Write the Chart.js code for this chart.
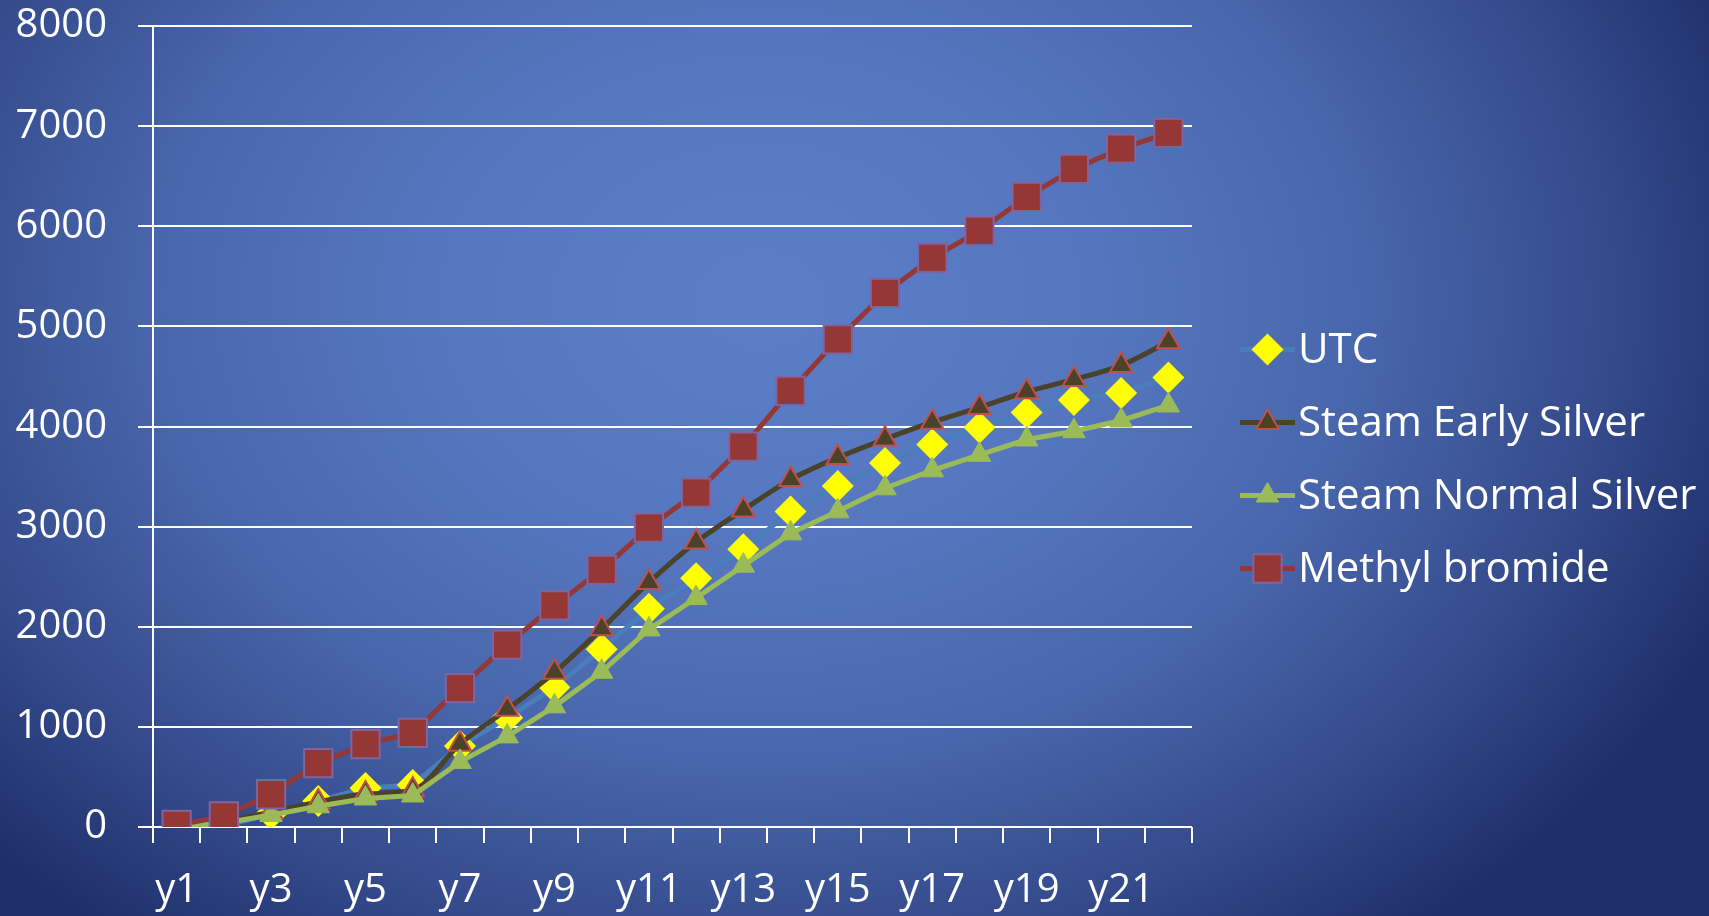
<!DOCTYPE html>
<html>
<head>
<meta charset="utf-8">
<title>Cumulative totals</title>
<script src="https://cdn.jsdelivr.net/npm/chart.js@4/dist/chart.umd.min.js"></script>
<style>
  html, body {
    margin: 0;
    padding: 0;
    width: 1709px;
    height: 916px;
    overflow: hidden;
  }
  body {
    background: radial-gradient(ellipse 1050px 800px at 760px 300px,
      #5c7ec8 0%, #5677c0 30%, #4866ab 58%, #33498a 82%, #1f2f6a 100%);
  }
  #chart {
    display: block;
  }
</style>
</head>
<body>
<canvas id="chart" width="1709" height="916"></canvas>
<script>
// Categories along the x axis
const years = ['y1', 'y2', 'y3', 'y4', 'y5', 'y6', 'y7', 'y8', 'y9', 'y10', 'y11',
               'y12', 'y13', 'y14', 'y15', 'y16', 'y17', 'y18', 'y19', 'y20', 'y21', 'y22'];

// Series values
const utc = [0, 10, 130, 260, 390, 420, 810, 1090, 1395, 1775, 2180,
             2485, 2775, 3150, 3405, 3635, 3820, 3990, 4140, 4265, 4335, 4490];
const steamEarly = [0, 60, 150, 250, 330, 370, 827, 1175, 1545, 1980, 2443,
                    2847, 3167, 3470, 3690, 3874, 4043, 4190, 4347, 4470, 4610, 4847];
const steamNormal = [0, 40, 120, 207, 285, 315, 650, 905, 1205, 1550, 1973,
                     2287, 2610, 2933, 3153, 3383, 3563, 3717, 3870, 3953, 4060, 4210];
const methylBromide = [20, 105, 327, 638, 828, 940, 1388, 1822, 2213, 2568, 2990,
                       3340, 3800, 4356, 4870, 5335, 5684, 5954, 6294, 6573, 6775, 6933];

// Y axis ticks
const yTicks = [0, 1000, 2000, 3000, 4000, 5000, 6000, 7000, 8000];

const FONT = '"Open Sans", "Noto Sans", sans-serif';
const FONT_SIZE = 40;
const LEGEND_SIZE = 42;

// Excel-style legend: line sample with the marker in the middle, then the label
const lineLegend = {
  id: 'lineLegend',
  afterDraw(chart) {
    const ctx = chart.ctx;
    const area = chart.chartArea;
    const sets = chart.data.datasets;
    const rowGap = 73;
    const midY = 459;
    const lineX0 = area.right + 48;
    const lineX1 = area.right + 103;
    const textX = area.right + 106;

    ctx.save();
    sets.forEach((ds, i) => {
      const y = midY + (i - (sets.length - 1) / 2) * rowGap;

      ctx.beginPath();
      ctx.strokeStyle = ds.borderColor;
      ctx.lineWidth = ds.borderWidth;
      ctx.moveTo(lineX0, y);
      ctx.lineTo(lineX1, y);
      ctx.stroke();

      ctx.fillStyle = ds.pointBackgroundColor;
      ctx.strokeStyle = ds.pointBorderColor;
      ctx.lineWidth = ds.pointBorderWidth;
      Chart.helpers.drawPoint(ctx, {
        pointStyle: ds.pointStyle,
        radius: ds.pointRadius,
        rotation: 0,
        borderWidth: ds.pointBorderWidth
      }, (lineX0 + lineX1) / 2, y);

      ctx.fillStyle = '#ffffff';
      ctx.font = LEGEND_SIZE + 'px ' + FONT;
      ctx.textAlign = 'left';
      ctx.textBaseline = 'middle';
      ctx.fillText(ds.label, textX, y + 2);
    });
    ctx.restore();
  }
};

new Chart(document.getElementById('chart'), {
  type: 'line',
  data: {
    labels: years,
    datasets: [
      {
        label: 'UTC',
        data: utc,
        order: 4,
        borderColor: '#4a7ebb',
        borderWidth: 5,
        pointStyle: 'rectRot',
        pointRadius: 16,
        pointBackgroundColor: '#ffff00',
        pointBorderColor: '#ffff00',
        pointBorderWidth: 0
      },
      {
        label: 'Steam Early Silver',
        data: steamEarly,
        order: 3,
        borderColor: '#4a4229',
        borderWidth: 5,
        cubicInterpolationMode: 'monotone',
        pointStyle: 'triangle',
        pointRadius: 13,
        pointBackgroundColor: '#4a4229',
        pointBorderColor: '#c0504d',
        pointBorderWidth: 2
      },
      {
        label: 'Steam Normal Silver',
        data: steamNormal,
        order: 2,
        borderColor: '#9bbb59',
        borderWidth: 5,
        pointStyle: 'triangle',
        pointRadius: 13,
        pointBackgroundColor: '#9bbb59',
        pointBorderColor: '#9bbb59',
        pointBorderWidth: 1
      },
      {
        label: 'Methyl bromide',
        data: methylBromide,
        order: 1,
        borderColor: '#953735',
        borderWidth: 5,
        pointStyle: 'rect',
        pointRadius: 20,
        pointBackgroundColor: '#953735',
        pointBorderColor: '#8064a2',
        pointBorderWidth: 2
      }
    ]
  },
  options: {
    responsive: false,
    animation: false,
    events: [],
    layout: {
      padding: { top: 26, right: 517, bottom: 0, left: 0 }
    },
    plugins: {
      legend: { display: false },
      tooltip: { enabled: false }
    },
    scales: {
      x: {
        offset: true,
        grid: {
          offset: true,
          drawOnChartArea: false,
          drawTicks: true,
          tickLength: 16,
          color: '#ffffff',
          lineWidth: 2
        },
        border: { display: false },
        ticks: {
          autoSkip: false,
          maxRotation: 0,
          padding: 24,
          color: '#ffffff',
          font: { family: FONT, size: FONT_SIZE },
          callback: (val, i) => (i % 2 === 0 ? years[i] : '')
        },
        afterFit(scale) {
          scale.height = 89;
        }
      },
      y: {
        min: yTicks[0],
        max: yTicks[yTicks.length - 1],
        afterBuildTicks(scale) {
          scale.ticks = yTicks.map(v => ({ value: v }));
        },
        grid: {
          color: '#ffffff',
          lineWidth: 2,
          tickLength: 15
        },
        border: { display: true, color: '#ffffff', width: 2 },
        ticks: {
          padding: 31,
          color: '#ffffff',
          font: { family: FONT, size: FONT_SIZE },
          callback: v => String(v)
        },
        afterFit(scale) {
          scale.width = 153;
          // keep the top label from pushing the plot area down
          scale.paddingTop = 0;
          scale.paddingBottom = 0;
        }
      }
    }
  },
  plugins: [lineLegend]
});
</script>
</body>
</html>
